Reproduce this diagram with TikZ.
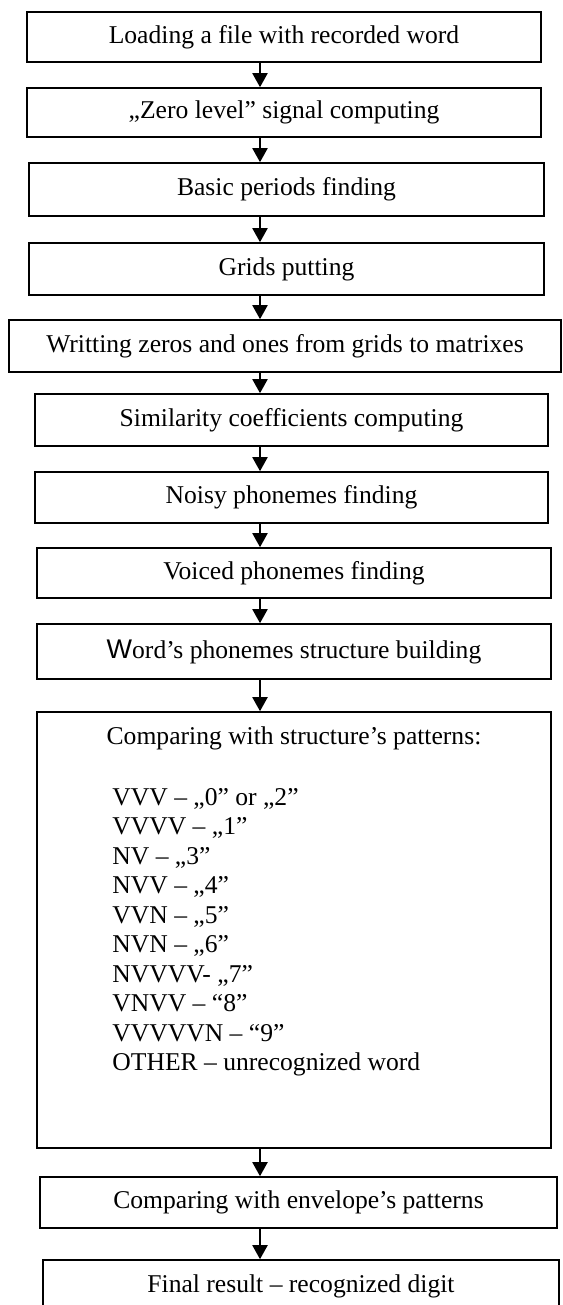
\documentclass[tikz,border=0pt]{standalone}
\usepackage{fontspec}
\setmainfont{Liberation Serif}
\setsansfont{Liberation Sans}
\usepackage{tikz}
\usetikzlibrary{positioning,arrows.meta,calc}

\tikzset{
  stage/.style={draw, line width=.8pt, inner sep=0pt, minimum height=25pt},
  flow/.style={line width=1pt, -{Triangle[length=7pt,width=7.5pt]}},
  plain/.style={inner sep=0pt},
}

\begin{document}
\begin{tikzpicture}[x=.5pt,y=-.5pt,font=\fontsize{12.8}{14.75}\selectfont]

  \useasboundingbox (0,0) rectangle (562,1305);
  \clip (0,0) rectangle (562,1305);

  \node[stage, minimum width=257pt] (b1) at (284,37) {Loading a file with recorded word};
  \node[stage, minimum width=257pt, minimum height=24.5pt] (b2) at (284,112.5) {„Zero level” signal computing};
  \node[stage, minimum width=257.5pt, minimum height=26.5pt] (b3) at (286.5,189.5) {Basic periods finding};
  \node[stage, minimum width=257.5pt, minimum height=26pt] (b4) at (286.5,269) {Grids putting};
  \node[stage, minimum width=276pt, minimum height=26pt] (b5) at (285,346) {Writting zeros and ones from grids to matrixes};
  \node[stage, minimum width=256.5pt, minimum height=26pt] (b6) at (291.5,420) {Similarity coefficients computing};
  \node[stage, minimum width=256.5pt, minimum height=25.5pt] (b7) at (291.5,497.5) {Noisy phonemes finding};
  \node[stage, minimum width=257pt] (b8) at (294,573) {Voiced phonemes finding};
  \node[stage, minimum width=257pt, minimum height=27.5pt] (b9) at (294,651.5) {{\sffamily\fontsize{13.5}{14}\selectfont W}ord’s phonemes structure building};

  % big box with the list of patterns
  \node[stage, minimum width=257pt, minimum height=218pt] (b10) at (294,930) {};
  \node[plain, anchor=base] (b10t) at ($(b10.north)+(0,33)$) {Comparing with structure’s patterns:};
  \node[plain, anchor=north west, align=left] (b10l) at (112,788) {%
    VVV – „0” or „2”\\
    VVVV – „1”\\
    NV – „3”\\
    NVV – „4”\\
    VVN – „5”\\
    NVN – „6”\\
    NVVVV- „7”\\
    VNVV – “8”\\
    VVVVVN – “9”\\
    OTHER – unrecognized word};

  \node[stage, minimum width=258.5pt, minimum height=25.5pt] (b11) at (298.5,1202.5) {Comparing with envelope’s patterns};
  \node[stage, minimum width=258pt, minimum height=26pt] (b12) at (301,1286) {Final result – recognized digit};

  \coordinate (axis) at (260,0);
  \foreach \a/\b in {b1/b2,b2/b3,b3/b4,b4/b5,b5/b6,b6/b7,b7/b8,b8/b9,b9/b10,b10/b11,b11/b12}
    \path[flow] (\a.south -| axis) edge (\b.north -| axis);

\end{tikzpicture}
\end{document}
